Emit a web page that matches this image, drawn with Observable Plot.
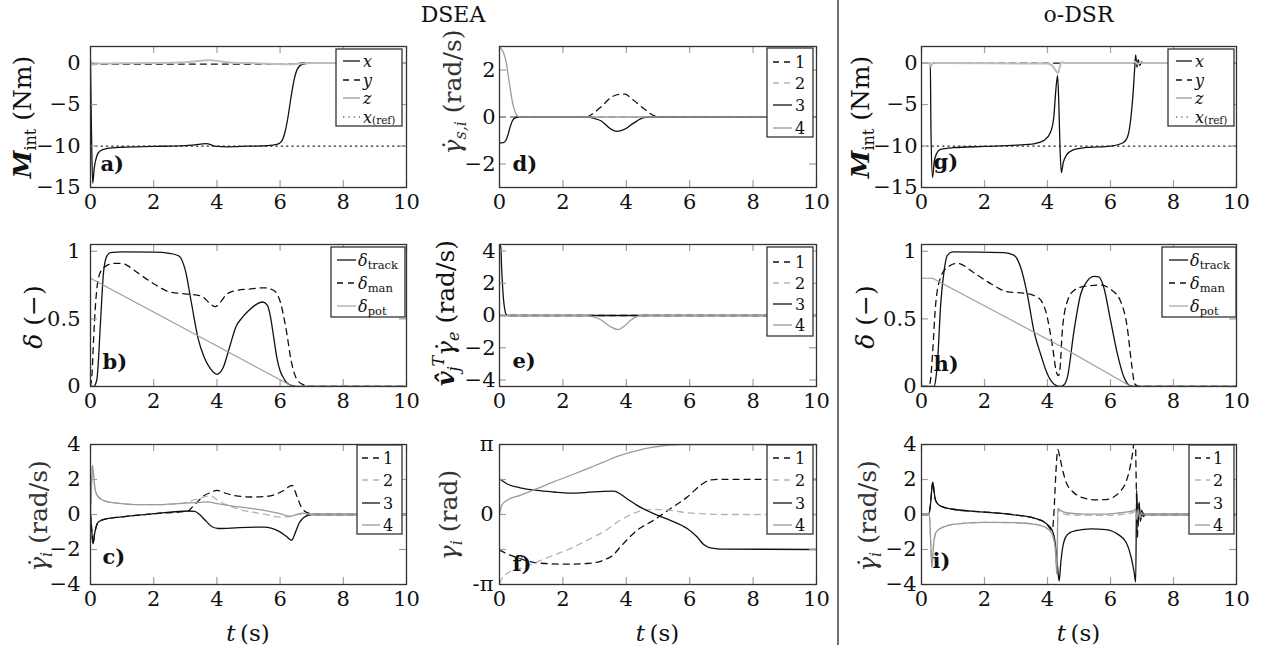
<!DOCTYPE html>
<html><head><meta charset="utf-8">
<script src="https://cdn.jsdelivr.net/npm/d3@7"></script>
<script src="https://cdn.jsdelivr.net/npm/@observablehq/plot@0.6"></script>
<style>
html,body{margin:0;padding:0;background:#fff;}
#wrap{position:relative;width:1268px;height:655px;overflow:hidden;font-family:"DejaVu Serif",serif;background:#fff;}
.ylab{position:absolute;white-space:nowrap;transform:translate(-50%,-50%) rotate(-90deg);font-size:25px;color:#111;line-height:1;font-family:"DejaVu Serif",serif;}
.ylab.g{color:#333;}
.ylab sub{font-size:16px;vertical-align:-5px;line-height:0;}
.ylab sup{font-size:16px;vertical-align:10px;line-height:0;}
</style></head><body><div id="wrap"></div>
<script>
// ---------------- data ----------------
const xTicks = [0, 2, 4, 6, 8, 10];
const titles = ["DSEA", "o-DSR"];
const xLabel = "t";
const seriesNames = ["1", "2", "3", "4"];
const deltaNames = ["track", "man", "pot"];
const tagNames = ["a)", "b)", "c)", "d)", "e)", "f)", "g)", "h)", "i)"];

// a) M_int, DSEA
const aX = [[0,0],[0.03,-8],[0.07,-14.5],[0.12,-12.6],[0.2,-11.2],[0.3,-10.6],[0.5,-10.3],[1,-10.15],[2,-10.05],[3,-9.95],[3.3,-9.85],[3.65,-9.72],[4,-10.05],[4.3,-10.1],[5,-10.02],[5.6,-9.95],[5.9,-9.8],[6.05,-9.4],[6.15,-8.4],[6.25,-6.5],[6.35,-4.0],[6.45,-1.9],[6.55,-0.7],[6.7,-0.15],[7,0],[10,0]];
const aY = [[0,0],[0.1,-0.12],[6.5,-0.12],[6.7,0.06],[10,0.06]];
const aZ = [[0,0.3],[0.05,0],[0.1,-0.2],[0.2,-0.05],[1,-0.03],[2,0],[3,0.1],[3.5,0.28],[3.8,0.35],[4.1,0.2],[4.5,0.05],[5,0],[5.8,-0.1],[6.3,-0.15],[6.6,-0.05],[7,0],[10,0]];
const aRef = [[0,-10],[10,-10]];

// b) delta, DSEA
const bTrack = [[0,0],[0.1,0],[0.2,0.05],[0.32,0.49],[0.4,0.81],[0.5,0.955],[0.63,0.99],[1,0.995],[2,0.993],[2.5,0.985],[2.8,0.965],[3.0,0.86],[3.2,0.61],[3.4,0.36],[3.6,0.215],[3.8,0.13],[4.0,0.09],[4.2,0.14],[4.4,0.29],[4.6,0.44],[4.8,0.51],[5.0,0.56],[5.2,0.6],[5.45,0.625],[5.6,0.6],[5.7,0.51],[5.8,0.36],[5.9,0.21],[6.0,0.116],[6.1,0.067],[6.2,0.03],[6.4,0.005],[6.6,0],[10,0]];
const bMan = [[0,0],[0.05,0.1],[0.1,0.36],[0.16,0.61],[0.26,0.81],[0.42,0.88],[0.74,0.91],[1,0.91],[1.2,0.89],[1.5,0.84],[2,0.76],[2.5,0.7],[3,0.685],[3.5,0.67],[3.8,0.61],[3.95,0.59],[4.1,0.62],[4.3,0.68],[4.6,0.71],[5,0.72],[5.5,0.73],[5.8,0.71],[6.0,0.63],[6.2,0.41],[6.35,0.19],[6.5,0.067],[6.7,0.017],[7,0],[10,0]];
const bPot = [[0,0.8],[6.4,0],[10,0]];

// c) gamma_dot_i, DSEA
const c1 = [[0,0],[0.04,-0.9],[0.08,-1.68],[0.13,-1.1],[0.18,-0.7],[0.25,-0.43],[0.46,-0.27],[1,-0.14],[2.05,0.05],[3.1,0.2],[3.17,0.33],[3.4,0.75],[3.6,1.09],[3.8,1.25],[4.0,1.38],[4.3,1.2],[4.54,1.09],[5.06,1.0],[5.59,1.04],[5.9,1.18],[6.12,1.38],[6.38,1.66],[6.54,1.0],[6.7,0.33],[6.96,0.05],[7.2,0],[10,0]];
const c2 = [[0,0],[0.03,1.5],[0.06,2.8],[0.1,2.2],[0.15,1.38],[0.25,1.0],[0.46,0.77],[1,0.62],[1.5,0.56],[2.05,0.56],[2.9,0.64],[3.3,0.85],[3.6,1.0],[3.8,1.08],[4.0,0.85],[4.3,0.55],[4.7,0.3],[5.5,0.02],[6.0,-0.15],[6.3,-0.12],[6.6,0.03],[7.0,0],[10,0]];
const c3 = [[0,0],[0.04,-0.9],[0.08,-1.68],[0.13,-1.1],[0.18,-0.7],[0.25,-0.43],[0.46,-0.27],[1,-0.14],[2.05,0.05],[3.1,0.2],[3.3,0.18],[3.45,0.0],[3.63,-0.33],[3.85,-0.7],[4.05,-0.8],[4.7,-0.75],[5.5,-0.72],[5.95,-0.95],[6.2,-1.25],[6.36,-1.47],[6.5,-0.95],[6.6,-0.5],[6.75,-0.17],[7.0,0],[10,0]];
const c4 = [[0,0],[0.03,1.5],[0.06,2.8],[0.1,2.2],[0.15,1.38],[0.25,1.0],[0.46,0.77],[1,0.62],[1.5,0.56],[2.05,0.56],[2.9,0.64],[3.3,0.68],[3.7,0.72],[4.0,0.62],[4.7,0.43],[5.5,0.24],[6.0,0.05],[6.3,-0.1],[6.5,-0.02],[6.7,0.08],[7.0,0],[10,0]];

// d) gamma_dot_s,i, DSEA
const d1 = [[0,0],[2.75,0],[3.0,0.2],[3.2,0.43],[3.55,0.86],[3.8,0.97],[3.95,0.97],[4.23,0.71],[4.55,0.36],[4.85,0.07],[5.0,0],[10,0]];
const d2 = [[0,0],[10,0]];
const d3s = [[0,-1.1],[0.12,-1.09],[0.2,-1.0],[0.27,-0.75],[0.33,-0.45],[0.4,-0.18],[0.48,-0.05],[0.6,0],[2.75,0],[3.0,-0.06],[3.2,-0.16],[3.5,-0.5],[3.7,-0.61],[3.92,-0.54],[4.23,-0.26],[4.55,-0.03],[4.75,0],[10,0]];
const d4 = [[0,3.0],[0.13,2.72],[0.2,2.4],[0.25,2.0],[0.3,1.55],[0.35,1.1],[0.4,0.7],[0.45,0.4],[0.5,0.2],[0.55,0.07],[0.65,0],[10,0]];

// e) v_j^T gamma_dot_e, DSEA
const e1 = [[0,0],[10,0]];
const e2 = [[0,0],[10,0]];
const e3 = [[0,4.4],[0.04,4.25],[0.07,2.8],[0.1,1.7],[0.13,0.93],[0.16,0.45],[0.19,0.15],[0.25,0],[10,0]];
const e4 = [[0,0],[2.76,0],[3.0,-0.1],[3.18,-0.25],[3.49,-0.68],[3.74,-0.87],[3.92,-0.68],[4.13,-0.31],[4.34,-0.06],[4.5,0],[10,0]];

// f) gamma_i, DSEA
const f1 = [[0,-1.6],[0.3,-1.8],[0.65,-1.98],[1.18,-2.17],[2.02,-2.23],[2.76,-2.2],[3.28,-2.05],[3.6,-1.8],[3.81,-1.46],[4.34,-0.71],[4.86,-0.26],[5.39,0.26],[5.92,0.78],[6.34,1.31],[6.65,1.55],[6.97,1.58],[10,1.5708]];
const f2 = [[0,-3.1],[0.05,-2.95],[0.23,-2.65],[0.65,-2.43],[1.18,-2.13],[1.7,-1.83],[2.23,-1.53],[2.76,-1.16],[3.28,-0.78],[3.81,-0.26],[4.34,0.11],[4.86,0.23],[5.39,0.19],[5.92,0.08],[6.44,0.03],[7,0],[10,0]];
const f3 = [[0,1.6],[0.23,1.38],[0.65,1.2],[1.18,1.08],[1.7,1.01],[2.23,0.96],[2.76,0.99],[3.28,1.04],[3.6,1.05],[4.02,0.71],[4.34,0.41],[4.86,0.04],[5.39,-0.26],[5.92,-0.63],[6.23,-1.0],[6.44,-1.35],[6.65,-1.5],[6.97,-1.55],[10,-1.5708]];
const f4 = [[0,0],[0.07,0.41],[0.23,0.63],[0.65,0.86],[1.18,1.16],[1.7,1.46],[2.23,1.75],[2.76,2.05],[3.28,2.35],[3.81,2.65],[4.34,2.87],[4.86,3.02],[5.39,3.12],[5.75,3.1416],[10,3.1416]];

// g) M_int, o-DSR
const gX = [[0,0],[0.28,0],[0.3,-8],[0.35,-13.8],[0.4,-12],[0.48,-10.9],[0.6,-10.4],[1,-10.2],[2,-10.05],[3,-9.9],[3.6,-9.7],[3.9,-9.3],[4.1,-8.3],[4.2,-6.5],[4.27,-3],[4.32,-1.5],[4.36,-5],[4.4,-10.5],[4.44,-13.2],[4.5,-12],[4.6,-11.1],[4.8,-10.5],[5.2,-10.2],[6,-10],[6.4,-9.6],[6.55,-8.8],[6.65,-6.5],[6.72,-3.5],[6.77,-0.5],[6.8,1.0],[6.84,-0.5],[6.88,0.4],[6.93,-0.3],[6.98,0.15],[7.05,0],[10,0]];
const gY = [[0,0],[10,0]];
const gZ = [[0,0],[0.25,0],[0.3,-0.4],[0.36,0.05],[0.5,0],[4.0,-0.05],[4.15,-0.3],[4.28,-1.0],[4.33,-1.2],[4.38,-0.6],[4.45,0.1],[4.6,0],[6.7,0],[6.78,0.15],[6.85,-0.1],[6.95,0.05],[7.05,0],[10,0]];
const gRef = [[0,-10],[10,-10]];

// h) delta, o-DSR
const hTrack = [[0,0],[0.4,0],[0.45,0.05],[0.51,0.19],[0.61,0.61],[0.72,0.86],[0.82,0.97],[0.98,0.995],[2.62,0.99],[2.94,0.97],[3.15,0.88],[3.36,0.68],[3.57,0.41],[3.78,0.24],[4.0,0.09],[4.21,0.017],[4.42,0],[4.55,0.02],[4.63,0.067],[4.84,0.41],[5.05,0.68],[5.26,0.78],[5.48,0.815],[5.63,0.81],[5.79,0.73],[6.0,0.49],[6.22,0.24],[6.43,0.067],[6.64,0.005],[6.8,0],[10,0]];
const hMan = [[0,0],[0.24,0],[0.3,0.08],[0.35,0.24],[0.45,0.61],[0.61,0.81],[0.82,0.88],[1.14,0.91],[1.67,0.84],[2.2,0.76],[2.73,0.70],[3.26,0.69],[3.68,0.66],[3.94,0.56],[4.15,0.31],[4.29,0.1],[4.35,0.08],[4.4,0.14],[4.47,0.41],[4.63,0.63],[4.84,0.71],[5.16,0.74],[5.69,0.75],[6.0,0.72],[6.32,0.63],[6.53,0.44],[6.67,0.165],[6.77,0.02],[6.9,0],[10,0]];
const hPot = [[0,0.8],[0.35,0.8],[4.4,0.3],[6.65,0],[10,0]];

// i) gamma_dot_i, o-DSR
const i1 = [[0,0],[0.22,0],[0.28,0.5],[0.33,1.5],[0.36,1.85],[0.4,1.3],[0.44,0.85],[0.52,0.6],[0.65,0.45],[1,0.3],[2,0.14],[3,-0.03],[3.6,-0.22],[3.95,-0.5],[4.15,-0.9],[4.33,3.7],[4.4,3.2],[4.5,2.4],[4.6,1.8],[4.75,1.4],[4.9,1.15],[5.2,0.92],[5.5,0.84],[5.85,0.85],[6.1,1.0],[6.3,1.3],[6.5,1.9],[6.62,2.7],[6.72,3.8],[6.78,5],[6.82,1.5],[6.85,-1.3],[6.9,0.6],[6.95,-0.3],[7.0,0.15],[7.08,0],[10,0]];
const i2 = [[0,0],[0.25,0],[0.29,-1.5],[0.33,-3.0],[0.38,-1.8],[0.44,-1.1],[0.55,-0.85],[0.65,-0.75],[1,-0.56],[2,-0.45],[3,-0.47],[3.6,-0.56],[3.95,-0.75],[4.14,-1.1],[4.24,-1.8],[4.3,-3.4],[4.33,0.3],[4.4,0.15],[4.6,0.0],[5.2,-0.05],[5.8,-0.05],[6.3,0.0],[6.7,0.1],[6.8,0.2],[6.84,-0.3],[6.88,0.3],[6.93,-0.2],[6.98,0.1],[7.05,0],[10,0]];
const i3 = [[0,0],[0.22,0],[0.28,0.5],[0.33,1.5],[0.36,1.85],[0.4,1.3],[0.44,0.85],[0.52,0.6],[0.65,0.45],[1,0.3],[2,0.14],[3,-0.03],[3.6,-0.22],[3.95,-0.5],[4.15,-0.9],[4.25,-1.7],[4.32,-3],[4.37,-3.8],[4.42,-2.8],[4.48,-1.9],[4.56,-1.35],[4.7,-1.05],[4.9,-0.92],[5.4,-0.82],[5.85,-0.86],[6.25,-1.15],[6.5,-1.6],[6.65,-2.4],[6.75,-3.3],[6.8,-3.85],[6.83,1.4],[6.87,-0.7],[6.91,0.7],[6.95,-0.4],[6.99,0.25],[7.04,-0.12],[7.1,0],[10,0]];
const i4 = [[0,0],[0.25,0],[0.29,-1.5],[0.33,-3.0],[0.38,-1.8],[0.44,-1.1],[0.55,-0.85],[0.65,-0.75],[1,-0.56],[2,-0.45],[3,-0.47],[3.6,-0.56],[3.95,-0.75],[4.14,-1.1],[4.24,-1.8],[4.3,-3.4],[4.33,0.35],[4.4,0.25],[4.6,0.1],[5.2,0.02],[5.8,0.02],[6.3,0.1],[6.7,0.2],[6.8,0.3],[6.84,-0.3],[6.88,0.3],[6.93,-0.2],[6.98,0.1],[7.05,0],[10,0]];

// ---------------- styles ----------------
const ST = {
  k:   {stroke:"#111", w:1.3, dash:null},
  kd:  {stroke:"#111", w:1.3, dash:"6,5"},
  gd:  {stroke:"#b4b4b4", w:1.3, dash:"6,5"},
  g:   {stroke:"#9a9a9a", w:1.3, dash:null},
  gp:  {stroke:"#9a9a9a", w:1.1, dash:null, curve:"linear"},
  z:   {stroke:"#bdbdbd", w:2, dash:null},
  dot: {stroke:"#222", w:1.2, dash:"1.3,4", curve:"linear"}
};
const FONT = '"DejaVu Serif", serif';
const wrap = document.getElementById("wrap");
const ML = 62, MR = 22, MT = 10, MB = 36;
const cols = [[90,406],[499,816],[921,1236]];
const rows = [[46,187],[244,386],[444,584]];
const fmtNum = d => (d < 0 ? "\u2212" : "") + Math.abs(d);
const fmtPi = d => d > 0 ? "π" : d < 0 ? "-π" : "0";
const PI = Math.PI;

const momentLabels = [[["x","i"]],[["y","i"]],[["z","i"]],[["x","i"],["(ref)","s2"]]];
const deltaLabels = deltaNames.map(n => [["δ","i"],[n,"s"]]);
const numLabels = seriesNames.map(n => [[n,""]]);

const panels = [
  {c:0,r:0,tag:tagNames[0],dom:[-15,2],lab:[-15,-10,-5,0],tm:[-15,-10,-5,0],pad:10,tdx:10,tdy:-17,
   series:[{d:aX,st:ST.k},{d:aY,st:ST.kd},{d:aZ,st:ST.z},{d:aRef,st:ST.dot}],labels:momentLabels,
   lg:{box:[336,49,402,126],ys:[61,80,98,117],sx:[343,360],lx:363}},
  {c:0,r:1,tag:tagNames[1],dom:[0,1.05],lab:[0,0.5,1],tm:[0,0.5,1],pad:10,tdx:12,tdy:-18,
   series:[{d:bTrack,st:ST.k},{d:bMan,st:ST.kd},{d:bPot,st:ST.gp}],labels:deltaLabels,
   lg:{box:[331,247,405,317],ys:[260,283,306],sx:[337,356],lx:358}},
  {c:0,r:2,tag:tagNames[2],dom:[-4,4],lab:[-4,-2,0,2,4],tm:[-4,-2,0,2,4],pad:10,tdx:12,tdy:-21,
   series:[{d:c1,st:ST.kd},{d:c2,st:ST.gd},{d:c3,st:ST.k},{d:c4,st:ST.g}],labels:numLabels,
   lg:{box:[357,445,402,534],ys:[458,480,503,525],sx:[362,380],lx:383}},
  {c:1,r:0,tag:tagNames[3],dom:[-3,3],lab:[-2,0,2],tm:[-2,0,2],pad:4,tdx:13,tdy:-17,
   series:[{d:d1,st:ST.kd},{d:d2,st:ST.gd},{d:d3s,st:ST.k},{d:d4,st:ST.g}],labels:numLabels,
   lg:{box:[767,48,813,137],ys:[62,83,105,128],sx:[773,792],lx:795}},
  {c:1,r:1,tag:tagNames[4],dom:[-4.4,4.4],lab:[-4,-2,0,2,4],tm:[-4,-2,0,2,4],pad:4,tdx:13,tdy:-19,
   series:[{d:e1,st:ST.kd},{d:e2,st:ST.gd},{d:e3,st:ST.k},{d:e4,st:ST.g}],labels:numLabels,
   lg:{box:[767,247,813,336],ys:[262,283,304,325],sx:[773,792],lx:795}},
  {c:1,r:2,tag:tagNames[5],dom:[-PI,PI],lab:[-PI,0,PI],tm:[-PI,-PI/2,0,PI/2,PI],pad:6,fmt:fmtPi,tdx:13,tdy:-14,
   series:[{d:f1,st:ST.kd},{d:f2,st:ST.gd},{d:f3,st:ST.k},{d:f4,st:ST.g}],labels:numLabels,
   lg:{box:[767,445,813,534],ys:[458,480,503,525],sx:[773,792],lx:795}},
  {c:2,r:0,tag:tagNames[6],dom:[-15,2],lab:[-15,-10,-5,0],tm:[-15,-10,-5,0],pad:4,tdx:12,tdy:-19,
   series:[{d:gX,st:ST.k},{d:gY,st:ST.kd},{d:gZ,st:ST.z},{d:gRef,st:ST.dot}],labels:momentLabels,
   lg:{box:[1168,49,1234,126],ys:[61,80,98,117],sx:[1176,1192],lx:1195}},
  {c:2,r:1,tag:tagNames[7],dom:[0,1.05],lab:[0,0.5,1],tm:[0,0.5,1],pad:5,tdx:12,tdy:-16,
   series:[{d:hTrack,st:ST.k},{d:hMan,st:ST.kd},{d:hPot,st:ST.gp}],labels:deltaLabels,
   lg:{box:[1162,247,1236,317],ys:[260,283,306],sx:[1169,1188],lx:1190}},
  {c:2,r:2,tag:tagNames[8],dom:[-4,4],lab:[-4,-2,0,2,4],tm:[-4,-2,0,2,4],pad:5,tdx:11,tdy:-17,
   series:[{d:i1,st:ST.kd},{d:i2,st:ST.gd},{d:i3,st:ST.k},{d:i4,st:ST.g}],labels:numLabels,
   lg:{box:[1189,445,1234,534],ys:[458,480,503,525],sx:[1195,1210],lx:1213}}
];

function makePanel(p){
  const [L,R] = cols[p.c], [T,B] = rows[p.r];
  const w = R - L, h = B - T;
  const tk = 7, tc = "#a0a0a0";
  const marks = [];
  p.series.forEach(s => marks.push(Plot.line(s.d, {x: d => d[0], y: d => d[1], stroke: s.st.stroke,
    strokeWidth: s.st.w, strokeDasharray: s.st.dash || undefined, curve: s.st.curve || "monotone-x", clip: true})));
  marks.push(Plot.ruleX(xTicks, {x: d => d, insetTop: h - tk, stroke: tc, strokeWidth: 1.2}));
  marks.push(Plot.ruleX(xTicks, {x: d => d, insetBottom: h - tk, stroke: tc, strokeWidth: 1.2}));
  marks.push(Plot.ruleY(p.tm, {y: d => d, insetRight: w - tk, stroke: tc, strokeWidth: 1.2}));
  marks.push(Plot.ruleY(p.tm, {y: d => d, insetLeft: w - tk, stroke: tc, strokeWidth: 1.2}));
  marks.push(Plot.frame({stroke: "#333", strokeWidth: 1.3}));
  marks.push(Plot.axisX(xTicks, {tickSize: 0, tickPadding: 7, tickFormat: fmtNum, label: null}));
  marks.push(Plot.axisY(p.lab, {tickSize: 0, tickPadding: p.pad, tickFormat: p.fmt || fmtNum, label: null}));
  marks.push(Plot.text([p.tag], {frameAnchor: "bottom-left", dx: p.tdx, dy: p.tdy, text: d => d,
    fontWeight: "bold", fontSize: 21, textAnchor: "start", lineAnchor: "bottom"}));
  const svg = Plot.plot({
    width: w + ML + MR, height: h + MT + MB,
    marginLeft: ML, marginRight: MR, marginTop: MT, marginBottom: MB,
    x: {domain: [0, 10], label: null},
    y: {domain: p.dom, label: null},
    style: {fontFamily: FONT, fontSize: "21px", background: "transparent", overflow: "visible", color: "#111"},
    marks
  });
  svg.style.position = "absolute";
  svg.style.left = (L - ML) + "px";
  svg.style.top = (T - MT) + "px";
  svg.style.maxWidth = "none";
  wrap.appendChild(svg);
}
panels.forEach(makePanel);

// ---------------- overlay: legends, titles, labels ----------------
const ov = d3.select(wrap).append("svg").attr("width", 1268).attr("height", 655)
  .style("position", "absolute").style("left", "0px").style("top", "0px").style("font-family", FONT);

ov.append("line").attr("x1", 838).attr("x2", 838).attr("y1", 0).attr("y2", 645)
  .attr("stroke", "#222").attr("stroke-width", 1.3);

ov.append("text").attr("x", (cols[0][0] + cols[1][1]) / 2).attr("y", 22).attr("text-anchor", "middle")
  .attr("font-size", 22).attr("fill", "#111").text(titles[0]);
ov.append("text").attr("x", (cols[2][0] + cols[2][1]) / 2).attr("y", 22).attr("text-anchor", "middle")
  .attr("font-size", 22).attr("fill", "#111").text(titles[1]);

cols.forEach(([L, R]) => {
  const t = ov.append("text").attr("x", (L + R) / 2).attr("y", 641).attr("text-anchor", "middle")
    .attr("font-size", 23).attr("fill", "#111");
  t.append("tspan").attr("font-style", "italic").text(xLabel);
  t.append("tspan").text("\u2009(s)");
});

panels.forEach(p => {
  const lg = p.lg;
  const [x1, y1, x2, y2] = lg.box;
  ov.append("rect").attr("x", x1).attr("y", y1).attr("width", x2 - x1).attr("height", y2 - y1)
    .attr("fill", "#fff").attr("stroke", "#333").attr("stroke-width", 1.3);
  p.series.forEach((s, k) => {
    const y = lg.ys[k];
    ov.append("line").attr("x1", lg.sx[0]).attr("x2", lg.sx[1]).attr("y1", y).attr("y2", y)
      .attr("stroke", s.st.stroke).attr("stroke-width", s.st.w).attr("stroke-dasharray", s.st.dash);
    const t = ov.append("text").attr("x", lg.lx).attr("y", y + 6).attr("font-size", 16).attr("fill", "#111");
    p.labels[k].forEach(([str, kind]) => {
      const ts = t.append("tspan").text(str);
      if (kind === "i") ts.attr("font-style", "italic");
      if (kind === "s") ts.attr("font-size", 11.5).attr("dy", 3);
      if (kind === "s2") ts.attr("font-size", 10.5).attr("dy", 1);
    });
  });
});

const ylabels = [
  {x: 22, y: 117, cls: "", html: "<b><i>M</i></b><sub>int</sub>&nbsp;(Nm)"},
  {x: 860, y: 117, cls: "", html: "<b><i>M</i></b><sub>int</sub>&nbsp;(Nm)"},
  {x: 33, y: 317, cls: "", html: "<i>δ</i>&nbsp;(−)"},
  {x: 865, y: 317, cls: "", html: "<i>δ</i>&nbsp;(−)"},
  {x: 38, y: 516, cls: "g", html: "<i>γ̇</i><sub><i>i</i></sub>&nbsp;(rad/s)"},
  {x: 867, y: 516, cls: "g", html: "<i>γ̇</i><sub><i>i</i></sub>&nbsp;(rad/s)"},
  {x: 452, y: 92, cls: "g", html: "<i>γ̇</i><sub><i>s,i</i></sub>&nbsp;(rad/s)"},
  {x: 445, y: 313, cls: "", html: "<b><i>v̂</i></b><sub><i>j</i></sub><sup><i>T</i></sup><i>γ̇</i><sub><i>e</i></sub>&nbsp;(rad/s)"},
  {x: 448, y: 515, cls: "g", html: "<i>γ</i><sub><i>i</i></sub>&nbsp;(rad)"}
];
ylabels.forEach(l => {
  const d = document.createElement("div");
  d.className = "ylab " + l.cls;
  d.style.left = l.x + "px";
  d.style.top = l.y + "px";
  d.innerHTML = l.html;
  wrap.appendChild(d);
});
</script></body></html>
